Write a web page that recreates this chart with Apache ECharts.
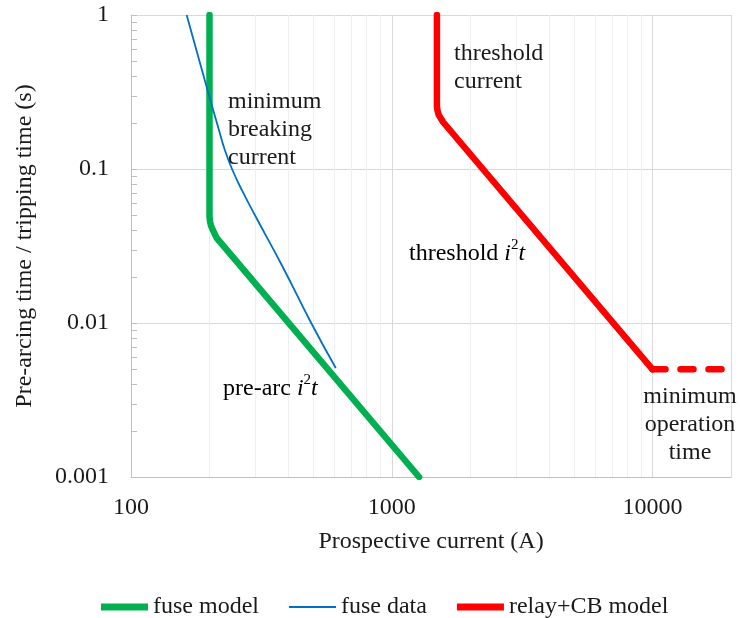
<!DOCTYPE html>
<html><head><meta charset="utf-8">
<script src="https://cdn.jsdelivr.net/npm/echarts@6/dist/echarts.min.js"></script>
<style>html,body{margin:0;padding:0;background:#fff}#c{width:740px;height:618px}</style>
</head><body><div id="c"></div>
<script>
// ---- data (current in A, time in s) ----
const fuseModel = [[200,1],[200,0.049],[201,0.0455],[203,0.0425],[207,0.0395],[213,0.0357],[1273,0.001]];
const fuseData = [[163.5,1],[179,0.575],[199,0.302],[217.4,0.179],[229,0.1328],[244,0.1],[266,0.0731],[301,0.049],[382,0.0231],[491,0.01],[610,0.0051]];
const relayModel = [[1490,1],[1490,0.255],[1497,0.24],[1515,0.224],[1573,0.202],[10000,0.005]];
const relayMinTime = [[10000,0.005],[20000,0.005]];
const xMinorGrid = [200,300,400,500,600,700,800,900,2000,3000,4000,5000,6000,7000,8000,9000];
const yMinorTicks = [0.2,0.3,0.4,0.5,0.6,0.7,0.8,0.9,0.02,0.03,0.04,0.05,0.06,0.07,0.08,0.09,0.002,0.003,0.004,0.005,0.006,0.007,0.008,0.009];
const xRange = [100, 20000];
const yRange = [0.001, 1];

const FONT = '"Liberation Serif","Times New Roman",serif';
const TXT = '#1a1a1a';
const chart = echarts.init(document.getElementById('c'));
const base = {fontFamily: FONT, fontSize: 24, color: TXT};
const rich = {
  n: {fontFamily: FONT, fontSize: 24, color: TXT, verticalAlign: 'bottom', lineHeight: 28},
  i: {fontFamily: FONT, fontSize: 24, color: TXT, fontStyle: 'italic', verticalAlign: 'bottom', lineHeight: 28},
  s: {fontFamily: FONT, fontSize: 15, color: TXT, verticalAlign: 'top', lineHeight: 28}
};
const fmt = v => String(+(+v).toPrecision(6));
chart.setOption({
  animation: false,
  backgroundColor: '#fff',
  grid: {left: 131, right: 9, top: 15, bottom: 141},
  xAxis: {
    type: 'log', logBase: 10, min: xRange[0], max: xRange[1],
    name: 'Prospective current (A)', nameLocation: 'middle', nameGap: 53,
    nameTextStyle: base,
    axisLine: {lineStyle: {color: '#bfbfbf', width: 1}},
    axisTick: {show: false},
    axisLabel: Object.assign({margin: 19, showMaxLabel: false, formatter: fmt}, base),
    splitLine: {show: true, lineStyle: {color: '#d9d9d9', width: 1}},
    minorTick: {show: false}, minorSplitLine: {show: false}
  },
  yAxis: {
    type: 'log', logBase: 10, min: yRange[0], max: yRange[1],
    name: 'Pre-arcing time / tripping time (s)', nameLocation: 'middle', nameGap: 94,
    nameTextStyle: base,
    axisLine: {show: true, lineStyle: {color: '#bfbfbf', width: 1}},
    axisTick: {show: true, inside: true, length: 6, lineStyle: {color: '#bfbfbf'}},
    axisLabel: Object.assign({margin: 22, formatter: fmt}, base),
    splitLine: {show: true, lineStyle: {color: '#d9d9d9', width: 1}}
  },
  legend: {
    data: [
      {name: 'fuse model', icon: 'path://M0,0H44V6.5H0Z'},
      {name: 'fuse data', icon: 'path://M0,0H44V2H0Z'},
      {name: 'relay+CB model', icon: 'path://M0,0H44V6.5H0Z'}
    ],
    left: 96, top: 590, itemWidth: 47, itemHeight: 14, itemGap: 30,
    textStyle: base, selectedMode: false
  },
  series: [
    {
      name: 'minor grid', type: 'custom', z: 1, silent: true,
      data: xMinorGrid.map(v => [v, yRange[0]]),
      encode: {x: 0, y: 1},
      renderItem: function (params, api) {
        const v = api.value(0);
        const p1 = api.coord([v, yRange[0]]);
        const p2 = api.coord([v, yRange[1]]);
        return {type: 'line', shape: {x1: Math.round(p1[0]) + 0.5, y1: p1[1], x2: Math.round(p2[0]) + 0.5, y2: p2[1]},
          style: {stroke: '#efefef', lineWidth: 1}};
      }
    },
    {
      name: 'yticks', type: 'custom', z: 1, silent: true,
      data: yMinorTicks.map(v => [xRange[0], v]),
      encode: {x: 0, y: 1},
      renderItem: function (params, api) {
        const p = api.coord([api.value(0), api.value(1)]);
        const y = Math.round(p[1]) + 0.5;
        return {type: 'line', shape: {x1: p[0], y1: y, x2: p[0] + 6, y2: y},
          style: {stroke: '#bfbfbf', lineWidth: 1}};
      }
    },
    {
      name: 'fuse data', type: 'line', data: fuseData, smooth: 0.5, showSymbol: false, symbol: 'none',
      z: 4, lineStyle: {color: '#0070c0', width: 1.8}, itemStyle: {color: '#0070c0'}
    },
    {
      name: 'fuse model', type: 'line', data: fuseModel, showSymbol: false, symbol: 'none',
      z: 3, lineStyle: {color: '#00b050', width: 6.5, cap: 'round', join: 'round'}, itemStyle: {color: '#00b050'}
    },
    {
      name: 'relay+CB model', type: 'line', data: relayModel, showSymbol: false, symbol: 'none',
      z: 3, lineStyle: {color: '#ff0000', width: 6.5, cap: 'round', join: 'round'}, itemStyle: {color: '#ff0000'}
    },
    {
      name: 'relay min time', type: 'line', data: relayMinTime, showSymbol: false, symbol: 'none',
      z: 3, lineStyle: {color: '#ff0000', width: 6.5, type: [13, 15], cap: 'round'}, itemStyle: {color: '#ff0000'}
    }
  ],
  graphic: [
    {type: 'text', x: 228, y: 88, z: 10, style: {text: 'minimum\nbreaking\ncurrent', font: '24px ' + FONT, fill: TXT, lineHeight: 28}},
    {type: 'text', x: 454, y: 40, z: 10, style: {text: 'threshold\ncurrent', font: '24px ' + FONT, fill: TXT, lineHeight: 28}},
    {type: 'text', x: 409, y: 238, z: 10, style: {text: '{n|threshold }{i|i}{s|2}{i|t}', rich: rich}},
    {type: 'text', x: 223, y: 373, z: 10, style: {text: '{n|pre-arc }{i|i}{s|2}{i|t}', rich: rich}},
    {type: 'text', x: 690, y: 383, z: 10, style: {text: 'minimum\noperation\ntime', font: '24px ' + FONT, fill: TXT, lineHeight: 28, align: 'center'}}
  ]
});
</script></body></html>
